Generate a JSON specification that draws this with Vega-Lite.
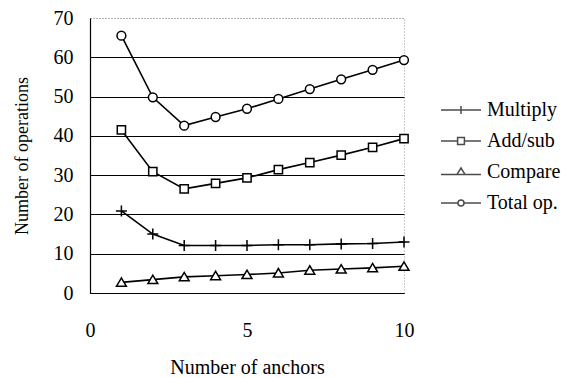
{
  "$schema": "https://vega.github.io/schema/vega-lite/v6.json",
  "width": 314,
  "height": 275,
  "autosize": {"type": "none"},
  "padding": {"left": 90, "top": 18, "right": 164, "bottom": 85},
  "background": "white",
  "config": {
    "view": {"stroke": "#999", "strokeDash": [1, 2], "strokeWidth": 1},
    "font": "Liberation Serif"
  },
  "data": {
    "values": [
      {"n": 1, "series": "Multiply", "ops": 20.9},
      {"n": 2, "series": "Multiply", "ops": 15.0},
      {"n": 3, "series": "Multiply", "ops": 12.1},
      {"n": 4, "series": "Multiply", "ops": 12.1},
      {"n": 5, "series": "Multiply", "ops": 12.1},
      {"n": 6, "series": "Multiply", "ops": 12.3},
      {"n": 7, "series": "Multiply", "ops": 12.3},
      {"n": 8, "series": "Multiply", "ops": 12.5},
      {"n": 9, "series": "Multiply", "ops": 12.6},
      {"n": 10, "series": "Multiply", "ops": 13.0},
      {"n": 1, "series": "Add/sub", "ops": 41.5},
      {"n": 2, "series": "Add/sub", "ops": 30.9},
      {"n": 3, "series": "Add/sub", "ops": 26.5},
      {"n": 4, "series": "Add/sub", "ops": 27.9},
      {"n": 5, "series": "Add/sub", "ops": 29.3},
      {"n": 6, "series": "Add/sub", "ops": 31.4},
      {"n": 7, "series": "Add/sub", "ops": 33.2},
      {"n": 8, "series": "Add/sub", "ops": 35.1},
      {"n": 9, "series": "Add/sub", "ops": 37.1},
      {"n": 10, "series": "Add/sub", "ops": 39.3},
      {"n": 1, "series": "Compare", "ops": 2.7},
      {"n": 2, "series": "Compare", "ops": 3.4},
      {"n": 3, "series": "Compare", "ops": 4.1},
      {"n": 4, "series": "Compare", "ops": 4.4},
      {"n": 5, "series": "Compare", "ops": 4.7},
      {"n": 6, "series": "Compare", "ops": 5.1},
      {"n": 7, "series": "Compare", "ops": 5.8},
      {"n": 8, "series": "Compare", "ops": 6.1},
      {"n": 9, "series": "Compare", "ops": 6.4},
      {"n": 10, "series": "Compare", "ops": 6.8},
      {"n": 1, "series": "Total op.", "ops": 65.5},
      {"n": 2, "series": "Total op.", "ops": 49.8},
      {"n": 3, "series": "Total op.", "ops": 42.6},
      {"n": 4, "series": "Total op.", "ops": 44.8},
      {"n": 5, "series": "Total op.", "ops": 46.9},
      {"n": 6, "series": "Total op.", "ops": 49.4},
      {"n": 7, "series": "Total op.", "ops": 51.9},
      {"n": 8, "series": "Total op.", "ops": 54.4},
      {"n": 9, "series": "Total op.", "ops": 56.8},
      {"n": 10, "series": "Total op.", "ops": 59.3}
    ]
  },
  "encoding": {
    "x": {
      "field": "n", "type": "quantitative",
      "scale": {"domain": [0, 10], "nice": false, "zero": false},
      "axis": {
        "title": "Number of anchors", "values": [0, 5, 10], "grid": false,
        "domainColor": "black", "domainWidth": 1.2,
        "tickColor": "black", "tickSize": 0, "ticks": false,
        "labelFont": "Liberation Serif", "labelFontSize": 20, "labelColor": "black",
        "labelPadding": 27, "labelFlush": false,
        "titleFont": "Liberation Serif", "titleFontSize": 20, "titleFontWeight": "normal",
        "titleColor": "black", "titlePadding": 17
      }
    },
    "y": {
      "field": "ops", "type": "quantitative",
      "scale": {"domain": [0, 70], "nice": false},
      "axis": {
        "title": "Number of operations", "values": [0, 10, 20, 30, 40, 50, 60, 70],
        "grid": true,
        "gridColor": {"condition": {"test": "datum.value === 70", "value": "#999"}, "value": "black"},
        "gridDash": {"condition": {"test": "datum.value === 70", "value": [1, 2]}, "value": []},
        "gridWidth": 1,
        "domainColor": "black", "domainWidth": 1.2,
        "ticks": false,
        "labelFont": "Liberation Serif", "labelFontSize": 20, "labelColor": "black",
        "labelPadding": 17,
        "titleFont": "Liberation Serif", "titleFontSize": 18, "titleFontWeight": "normal",
        "titleColor": "black", "titlePadding": 22
      }
    }
  },
  "layer": [
    {
      "mark": {"type": "line", "color": "black", "strokeWidth": 1.6},
      "encoding": {"detail": {"field": "series"}}
    },
    {
      "mark": {"type": "point", "filled": false, "fill": "white", "stroke": "black", "strokeWidth": 1.5, "size": 121, "opacity": 1},
      "encoding": {
        "shape": {
          "field": "series", "type": "nominal",
          "scale": {
            "domain": ["Multiply", "Add/sub", "Compare", "Total op."],
            "range": [
              "M-1,0H1M0,-1V1",
              "M-0.75,-0.75H0.75V0.75H-0.75Z",
              "M-0.9,0.72L0,-0.8L0.9,0.72Z",
              "M-0.8,0A0.8,0.8 0 1,0 0.8,0A0.8,0.8 0 1,0 -0.8,0Z"
            ]
          },
          "legend": null
        }
      }
    },
    {
      "transform": [{"filter": "datum.n > 100"}],
      "mark": {"type": "point", "color": "black", "filled": false, "size": 1600},
      "encoding": {
        "shape": {
          "field": "series", "type": "nominal",
          "scale": {
            "domain": ["Multiply", "Add/sub", "Compare", "Total op."],
            "range": [
              "M-1,0H1M0,-0.2V0.2",
              "M-1,0H-0.17M0.17,0H1M-0.17,-0.17H0.17V0.17H-0.17Z",
              "M-1,0.12H1M-0.2,0.12L0,-0.2L0.2,0.12Z",
              "M-1,0H-0.15M0.15,0H1M-0.15,0A0.15,0.15 0 1,0 0.15,0A0.15,0.15 0 1,0 -0.15,0Z"
            ]
          },
          "legend": {
            "title": null, "orient": "none", "legendX": 350, "legendY": 71,
            "symbolSize": 1600,
            "labelFont": "Liberation Serif", "labelFontSize": 20, "labelColor": "black",
            "labelOffset": 5, "rowPadding": -13, "padding": 0,
            "encode": {
              "symbols": {
                "update": {
                  "opacity": {"value": 1},
                  "fill": {"value": "white"},
                  "fillOpacity": {"value": 1},
                  "stroke": {"value": "black"},
                  "strokeOpacity": {"value": 1},
                  "strokeWidth": {"value": 1.6},
                  "size": {"value": 1600}
                }
              }
            }
          }
        }
      }
    }
  ],
  "resolve": {"scale": {"shape": "independent"}}
}
